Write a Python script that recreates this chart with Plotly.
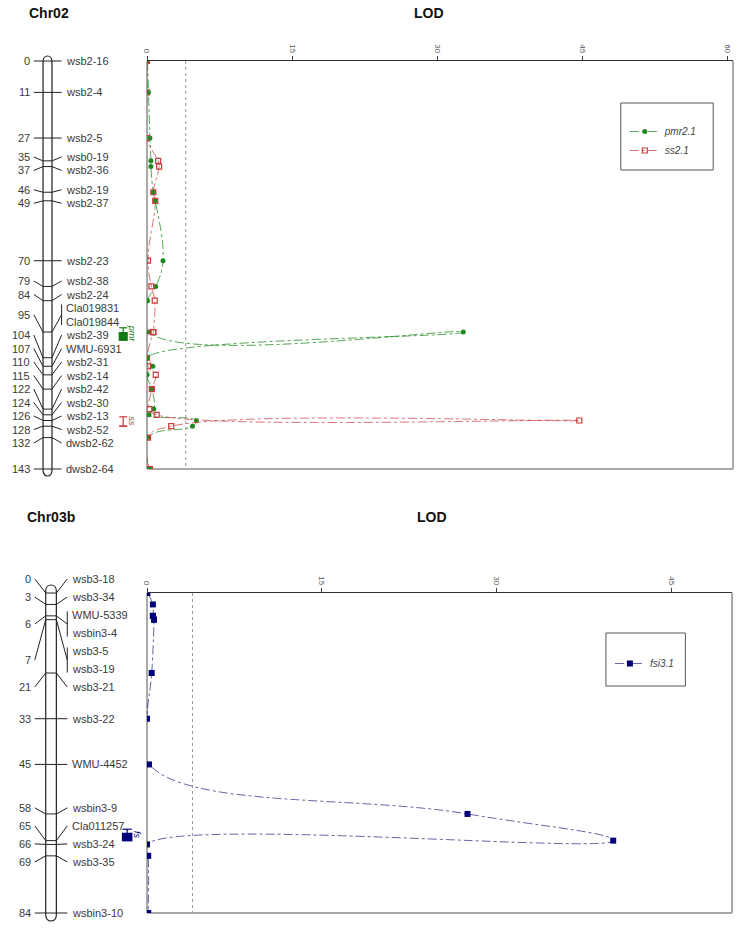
import plotly.graph_objects as go

W, H = 742, 928
FONT = "Liberation Sans, Arial, sans-serif"
INK = "#3A3A3A"
FRAME = "#A8A8A8"

GREEN = "#1E8A1E"
RED = "#C83C3C"
NAVY = "#00007A"

# ---- Chr02 -------------------------------------------------------------
chr02_names = ["wsb2-16", "wsb2-4", "wsb2-5", "wsb0-19", "wsb2-36", "wsb2-19", "wsb2-37",
               "wsb2-23", "wsb2-38", "wsb2-24", "Cla019831", "Cla019844", "wsb2-39",
               "WMU-6931", "wsb2-31", "wsb2-14", "wsb2-42", "wsb2-30", "wsb2-13",
               "wsb2-52", "dwsb2-62", "dwsb2-64"]
chr02_cm = [0, 11, 27, 35, 37, 46, 49, 70, 79, 84, 95, 95, 104, 107, 110, 115,
            122, 124, 126, 128, 132, 143]
pmr21_lod = [0.05, 0.15, 0.3, 0.4, 0.4, 0.65, 0.85, 1.65, 0.9, 0.05, 0.2, 32.7,
             0.05, 0.6, 0.0, 0.5, 0.7, 0.2, 5.1, 4.7, 0.1, 0.3]
ss21_lod = [0.0, 0.0, 0.0, 1.15, 1.25, 0.65, 0.85, 0.1, 0.45, 0.8, 0.65, 0.65,
            0.0, 0.1, 0.9, 0.5, 0.25, 1.0, 44.7, 2.5, 0.1, 0.3]
chr02_threshold = 4.0
chr02_ticks = [0, 15, 30, 45, 60]
pmr21_box = [95.2, 97.8]        # 1-LOD interval
pmr21_whisker = [93.5, 97.8]    # 2-LOD interval
ss21_box = [128.0, 128.0]
ss21_whisker = [124.7, 128.0]

# ---- Chr03b ------------------------------------------------------------
chr03b_names = ["wsb3-18", "wsb3-34", "WMU-5339", "wsbin3-4", "wsb3-5", "wsb3-19",
                "wsb3-21", "wsb3-22", "WMU-4452", "wsbin3-9", "Cla011257", "wsb3-24",
                "wsb3-35", "wsbin3-10"]
chr03b_cm = [0, 3, 6, 6, 7, 7, 21, 33, 45, 58, 65, 66, 69, 84]
fsi31_lod = [0.03, 0.5, 0.5, 0.5, 0.6, 0.6, 0.4, 0.0, 0.17, 27.5, 40.0, 0.0, 0.1, 0.1]
chr03b_threshold = 3.9
chr03b_ticks = [0, 15, 30, 45]
fsi31_box = [63.1, 65.0]
fsi31_whisker = [62.0, 65.0]


def spread(targets, gap, clear):
    """Stack crowded labels evenly, each stack centred between its first and last marker."""
    blocks = []   # [first target, last target, count]
    for t in targets:
        blocks.append([t, t, 1])
        while len(blocks) > 1:
            a, b = blocks[-2], blocks[-1]
            a_end = (a[0] + a[1]) / 2 + (a[2] - 1) * gap / 2
            b_start = (b[0] + b[1]) / 2 - (b[2] - 1) * gap / 2
            if b_start - a_end < clear:
                blocks[-2:] = [[a[0], b[1], a[2] + b[2]]]
            else:
                break
    out = []
    for t0, t1, n in blocks:
        c = (t0 + t1) / 2
        out += [c + (k - (n - 1) / 2) * gap for k in range(n)]
    return out


def add_panel(fig, k, title, names, cm, series, thr, ticks, qtls, legend, g):
    sfx = "" if k == 1 else str(k)
    xa, ya = "x" + sfx, "y" + sfx
    xc, yc = "x" + str(k + 2), "y" + str(k + 2)
    s = cm[-1] / (g["y1"] - g["y0"])          # cM per pixel row
    to_cm = lambda py: (py - g["y0"]) * s

    # --- LOD plot
    fig.add_trace(go.Scatter(x=[thr, thr], y=[cm[0], cm[-1]], mode="lines",
                             line=dict(color="#9A9A9A", width=1, dash="dot"),
                             xaxis=xa, yaxis=ya, showlegend=False, hoverinfo="skip"))
    for name, lod, color, lcolor, marker in series:
        fig.add_trace(go.Scatter(
            x=lod, y=cm, mode="lines+markers", name=f"<i>{name}</i>",
            line=dict(shape="spline", smoothing=1.3, dash="dashdot", width=1, color=lcolor),
            marker=marker, xaxis=xa, yaxis=ya, legend=legend,
        ))
    fig.layout["xaxis" + sfx] = dict(
        domain=[g["x0"] / W, g["x1"] / W], range=[0, g["lod_max"]], side="top", anchor=ya,
        tickvals=ticks, ticks="outside", ticklen=4, tickcolor=INK, tickangle=90,
        tickfont=dict(size=8, color="#555"), showline=True, linecolor="#333", linewidth=1,
        showgrid=False, zeroline=False,
    )
    fig.layout["yaxis" + sfx] = dict(domain=[1 - g["y1"] / H, 1 - g["y0"] / H],
                                     range=[cm[-1], 0], anchor=xa, visible=False)
    for x0, y0, x1, y1 in [(0, 0, 0, 1), (0, 0, 1, 0), (1, 0, 1, 1)]:
        fig.add_shape(type="line", xref=xa + " domain", yref=ya + " domain",
                      x0=x0, y0=y0, x1=x1, y1=y1, line=dict(color=FRAME, width=2), layer="below")

    # --- linkage map axes (x in pixels, y in cM on the same vertical scale)
    fig.add_trace(go.Scatter(x=[], y=[], xaxis=xc, yaxis=yc, showlegend=False))
    fig.layout["xaxis" + str(k + 2)] = dict(domain=[0, 140 / W], range=[0, 140],
                                            anchor=yc, visible=False)
    fig.layout["yaxis" + str(k + 2)] = dict(
        domain=[1 - g["aux_bot"] / H, 1 - g["aux_top"] / H],
        range=[to_cm(g["aux_bot"]), to_cm(g["aux_top"])], anchor=xc, visible=False)

    line = dict(color="#222", width=1)
    xl, xr = g["chrom_x"]
    top, bot = to_cm(g["chrom_y"][0]), to_cm(g["chrom_y"][1])
    r = 6 * s
    fig.add_shape(type="path", xref=xc, yref=yc, line=dict(color="#222", width=1.2),
                  path=(f"M {xl},{top + r} C {xl},{top - r / 3} {xr},{top - r / 3} {xr},{top + r} "
                        f"L {xr},{bot - r} C {xr},{bot + r / 3} {xl},{bot + r / 3} {xl},{bot - r} Z"))

    labels = spread(cm, g["gap"] * s, g["clear"] * s)
    groups = []
    for i, p in enumerate(cm):
        if groups and cm[groups[-1][0]] == p:
            groups[-1].append(i)
        else:
            groups.append([i])
    xa0, xb = g["num_x"] + 2, g["bracket_x"]
    for grp in groups:
        p = cm[grp[0]]
        ly = sum(labels[i] for i in grp) / len(grp)
        fig.add_shape(type="path", xref=xc, yref=yc, line=line,
                      path=f"M {xa0},{ly} L {xl},{p} L {xr},{p} L {xb},{ly}")
        if len(grp) > 1:
            fig.add_shape(type="line", xref=xc, yref=yc, line=line,
                          x0=xb, x1=xb, y0=labels[grp[0]] - 3.6 * s, y1=labels[grp[-1]] + 3.6 * s)
        fig.add_annotation(x=g["num_x"], y=ly, xref=xc, yref=yc, text=str(p), showarrow=False,
                           xanchor="right", yanchor="middle",
                           font=dict(size=11, color=INK, family=FONT))
    for i, nm in enumerate(names):
        fig.add_annotation(x=g["name_x"], y=labels[i], xref=xc, yref=yc, text=nm, showarrow=False,
                           xanchor="left", yanchor="middle",
                           font=dict(size=11, color=INK, family=FONT))

    # --- QTL bars
    qx0, qx1 = g["qtl_x"]
    qm = (qx0 + qx1) / 2
    for lab, box, whisk, color in qtls:
        ql = dict(color=color, width=1.2)
        fig.add_shape(type="rect", xref=xc, yref=yc, x0=qx0, x1=qx1, y0=box[0], y1=box[1],
                      fillcolor=color, line=ql)
        fig.add_shape(type="line", xref=xc, yref=yc, x0=qm, x1=qm, y0=whisk[0], y1=whisk[1], line=ql)
        for w in whisk:
            fig.add_shape(type="line", xref=xc, yref=yc, x0=qx0, x1=qx1, y0=w, y1=w, line=ql)
        fig.add_annotation(x=qx1 + 5, y=(whisk[0] + box[1]) / 2, xref=xc, yref=yc, text=f"<i>{lab}</i>",
                           textangle=90, showarrow=False, font=dict(size=9, color=color, family=FONT))

    # --- titles and legend box
    fig.add_annotation(x=g["title_x"] / W, y=1 - g["title_y"] / H, xref="paper", yref="paper",
                       text=f"<b>{title}</b>", showarrow=False, xanchor="left", yanchor="middle",
                       font=dict(size=14, color="#111", family=FONT))
    fig.add_annotation(x=g["lod_x"] / W, y=1 - g["title_y"] / H, xref="paper", yref="paper",
                       text="<b>LOD</b>", showarrow=False, xanchor="center", yanchor="middle",
                       font=dict(size=14, color="#111", family=FONT))
    bx0, by0, bx1, by1 = g["legend_box"]
    fig.add_shape(type="rect", xref="paper", yref="paper", x0=bx0 / W, x1=bx1 / W,
                  y0=1 - by1 / H, y1=1 - by0 / H, line=dict(color="#555", width=1))
    fig.layout[legend] = dict(x=(bx0 + 4) / W, y=1 - (by0 + g["legend_pad"]) / H, xanchor="left",
                              yanchor="top", bgcolor="rgba(0,0,0,0)", itemwidth=30,
                              font=dict(size=10, color="#444", family=FONT), tracegroupgap=0)


fig = go.Figure()

add_panel(
    fig, 1, "Chr02", chr02_names, chr02_cm,
    [("pmr2.1", pmr21_lod, GREEN, "rgba(30,138,30,0.75)",
      dict(symbol="circle", size=5, color=GREEN)),
     ("ss2.1", ss21_lod, RED, "rgba(200,60,60,0.7)",
      dict(symbol="square-open", size=5, color=RED, line=dict(width=1.2, color=RED)))],
    chr02_threshold, chr02_ticks,
    [("pmr", pmr21_box, pmr21_whisker, "#117A11"), ("ss", ss21_box, ss21_whisker, RED)],
    "legend",
    dict(x0=143, x1=733, y0=61, y1=469, lod_max=60.6, aux_top=30, aux_bot=490,
         chrom_x=(38.3, 47.3), chrom_y=(56, 476), num_x=27, bracket_x=57, name_x=59,
         gap=13.5, clear=17.5, qtl_x=(115, 123), title_x=22, lod_x=427, title_y=13,
         legend_box=(620, 103, 713, 170), legend_pad=14),
)

add_panel(
    fig, 2, "Chr03b", chr03b_names, chr03b_cm,
    [("fsi3.1", fsi31_lod, NAVY, "rgba(0,0,110,0.6)",
      dict(symbol="square", size=6, color=NAVY))],
    chr03b_threshold, chr03b_ticks,
    [("fs", fsi31_box, fsi31_whisker, NAVY)],
    "legend2",
    dict(x0=143, x1=732, y0=593, y1=913, lod_max=50.2, aux_top=555, aux_bot=928,
         chrom_x=(41, 51.7), chrom_y=(585, 921), num_x=28, bracket_x=62.7, name_x=65,
         gap=18, clear=23.4, qtl_x=(118.3, 127.7), title_x=20, lod_x=430, title_y=517,
         legend_box=(605, 633, 685, 686), legend_pad=16),
)

fig.update_layout(
    width=W, height=H, margin=dict(l=0, r=0, t=0, b=0),
    paper_bgcolor="white", plot_bgcolor="white",
    font=dict(family=FONT, color=INK), showlegend=True, hovermode=False,
)

# the page body has a default 8px margin; drop it so the figure fills the window
fig.write_html("out.html", config={"displayModeBar": False},
               post_script="document.body.style.margin='0';")
